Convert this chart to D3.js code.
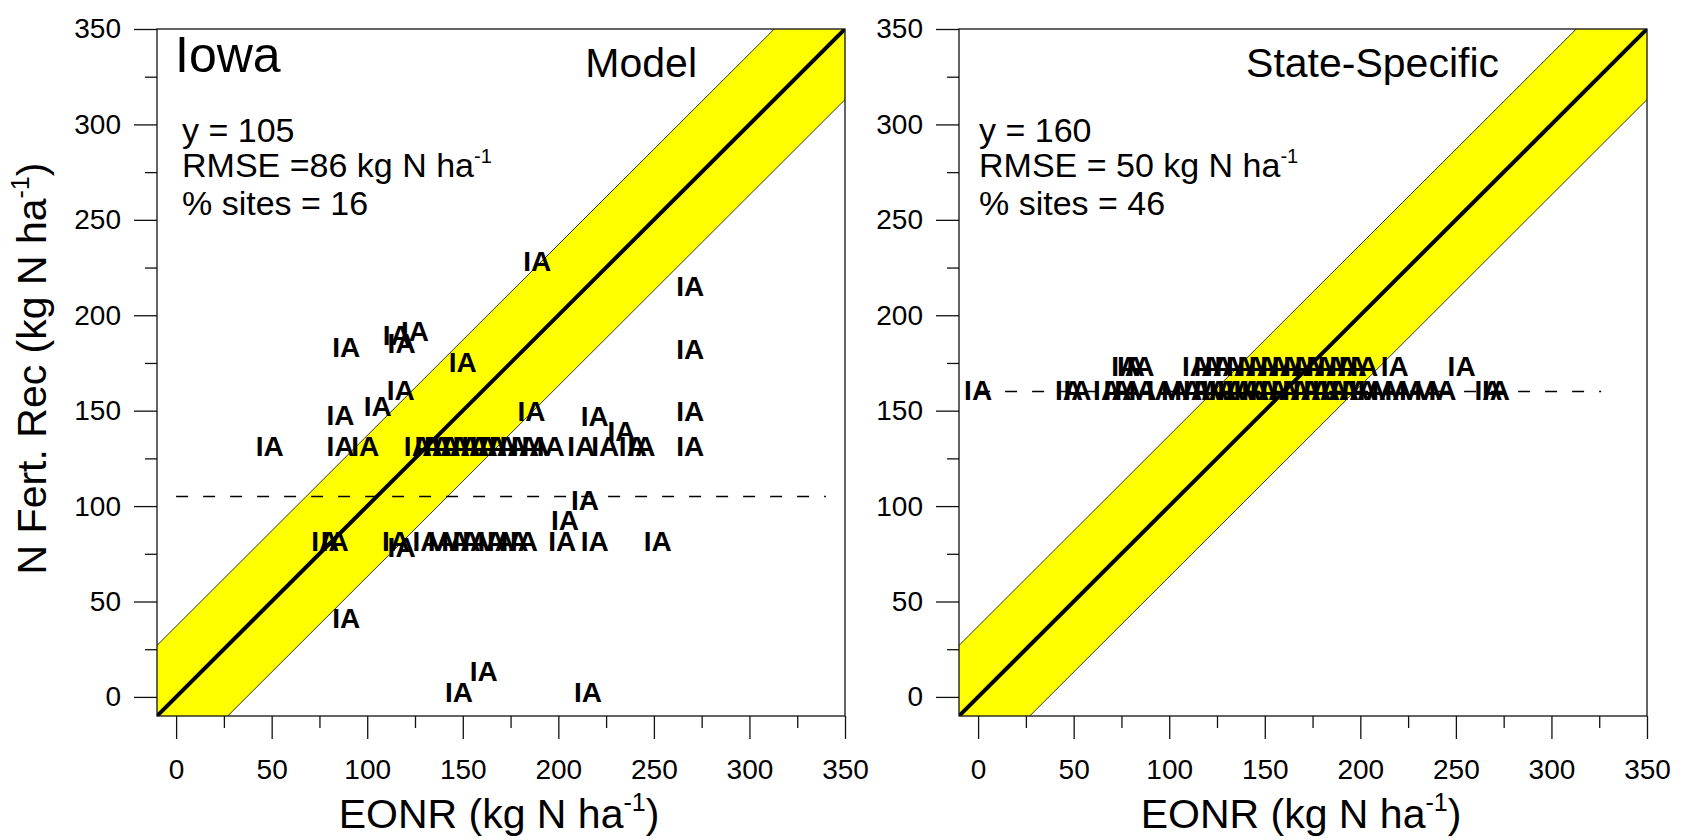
<!DOCTYPE html>
<html lang="en">
<head>
<meta charset="UTF-8">
<title>EONR vs N Fert. Rec - Iowa</title>
<script src="https://d3js.org/d3.v7.min.js"></script>
<style>
    body, html { margin: 0; padding: 0; background: #fff; }
    svg { display: block; font-family: "Liberation Sans", Arial, sans-serif; }
    .tick text { font-family: "Liberation Sans", Arial, sans-serif; }
</style>
</head>
<body>
<div id="chart"></div>
<script>
// axis setup (kg N ha-1)
const axisMin = -10, axisMax = 350
const majorTicks = [0, 50, 100, 150, 200, 250, 300, 350]
const minorTicks = [25, 75, 125, 175, 225, 275, 325]
const bandHalfWidth = 37

// Model panel: EONR (x) and model N recommendation (y)
const modelEonr = [189, 269, 269, 269, 269, 89, 115.5, 118, 125, 150, 117.5, 105.5, 86, 186, 219, 233, 214, 203.5, 89, 161, 148, 215.5,
    49, 86, 99, 126.5, 132, 137, 141.5, 146.5, 152, 156.5, 161, 166, 171, 176.5, 182.5, 188, 196, 212, 224.5, 239, 243.5,
    78, 83, 115, 118, 131, 139, 146, 152, 157, 165, 170, 177, 182, 202, 219, 252]
const modelRec = [227, 214, 181, 148, 130, 182, 188, 184, 190, 174, 159.5, 151, 146, 148.5, 145.5, 138, 101.5, 91, 40, 12, 1, 1,
    130, 130, 130, 130, 130, 130, 130, 130, 130, 130, 130, 130, 130, 130, 130, 130, 130, 130, 130, 130, 130,
    80, 80, 80, 77, 80, 80, 80, 80, 80, 80, 80, 80, 80, 80, 80, 80]

// State-specific panel
const stateEonr = [0, 47.5, 52, 67.5, 73, 78.5, 86, 95.5, 103, 110, 114.5, 120, 124, 128, 132.5, 137, 141, 145, 149.5, 155, 160.5, 166.5, 172, 177.5, 182, 186.5, 192, 197.5, 201.5, 206, 213, 220, 227.5, 235.5, 243, 267, 271,
    77, 80, 85, 114, 120, 126, 131, 137, 143, 149, 155, 161, 167, 173, 179, 185, 191, 196, 202, 218, 253]
const stateRec = [159, 159, 159, 159, 159, 159, 159, 159, 159, 159, 159, 159, 159, 159, 159, 159, 159, 159, 159, 159, 159, 159, 159, 159, 159, 159, 159, 159, 159, 159, 159, 159, 159, 159, 159, 159, 159,
    172, 172, 172, 172, 172, 172, 172, 172, 172, 172, 172, 172, 172, 172, 172, 172, 172, 172, 172, 172, 172]

const modelMean = { y: 105, from: 0, to: 340 }
const stateMean = { y: 160, from: 0, to: 326 }

const modelStats = ["y = 105", "RMSE =86 kg N ha", "% sites = 16"]
const stateStats = ["y = 160", "RMSE = 50 kg N ha", "% sites = 46"]

const width = 1694, height = 840
const plotW = 688, plotH = 687, plotTop = 29

const svg = d3.select("#chart").append("svg")
    .attr("width", width)
    .attr("height", height)

const panels = [
    { id: "model", left: 157, eonr: modelEonr, rec: modelRec, mean: modelMean, stats: modelStats, statsX: 25,
      title: "Model", state: "Iowa", yTitle: true },
    { id: "state", left: 959, eonr: stateEonr, rec: stateRec, mean: stateMean, stats: stateStats, statsX: 20,
      title: "State-Specific", state: null, yTitle: false }
]

panels.forEach(p => drawPanel(p))

function drawPanel(p) {
    const x = d3.scaleLinear().domain([axisMin, axisMax]).range([0, plotW])
    const y = d3.scaleLinear().domain([axisMin, axisMax]).range([plotH, 0])

    const g = svg.append("g").attr("transform", `translate(${p.left},${plotTop})`)

    g.append("clipPath").attr("id", "clip-" + p.id)
        .append("rect").attr("width", plotW).attr("height", plotH)

    const inner = g.append("g").attr("clip-path", `url(#clip-${p.id})`)

    // +/- band around 1:1 line
    const lo = axisMin - 100, hi = axisMax + 100
    const band = [[lo, lo + bandHalfWidth], [hi, hi + bandHalfWidth], [hi, hi - bandHalfWidth], [lo, lo - bandHalfWidth]]
    inner.append("path")
        .attr("d", "M" + band.map(d => [x(d[0]), y(d[1])].join(",")).join("L") + "Z")
        .attr("fill", "#ffff00")
        .attr("stroke", "#000")
        .attr("stroke-width", 0.8)

    inner.append("line")
        .attr("x1", x(axisMin)).attr("y1", y(axisMin))
        .attr("x2", x(axisMax)).attr("y2", y(axisMax))
        .attr("stroke", "#000")
        .attr("stroke-width", 4)

    // mean recommendation
    g.append("line")
        .attr("x1", x(p.mean.from)).attr("x2", x(p.mean.to))
        .attr("y1", y(p.mean.y)).attr("y2", y(p.mean.y))
        .attr("stroke", "#000")
        .attr("stroke-width", 1.5)
        .attr("stroke-dasharray", "12,15")

    // site labels
    g.selectAll(".site")
        .data(p.eonr.map((e, i) => ({ e, r: p.rec[i] })))
        .join("text")
        .attr("class", "site")
        .attr("x", d => x(d.e))
        .attr("y", d => y(d.r) + 7)
        .attr("text-anchor", "middle")
        .attr("font-weight", "bold")
        .attr("font-size", 28)
        .text("IA")

    // frame
    g.append("rect")
        .attr("width", plotW).attr("height", plotH)
        .attr("fill", "none")
        .attr("stroke", "#111")
        .attr("stroke-width", 1.3)

    // axes
    const xAxis = g.append("g").attr("transform", `translate(0,${plotH})`)
        .call(d3.axisBottom(x).tickValues(majorTicks).tickSize(23).tickPadding(20).tickFormat(d3.format("d")))
    const xMinor = g.append("g").attr("transform", `translate(0,${plotH})`)
        .call(d3.axisBottom(x).tickValues(minorTicks).tickSize(12).tickFormat(""))
    const yAxis = g.append("g")
        .call(d3.axisLeft(y).tickValues(majorTicks).tickSize(23).tickPadding(13).tickFormat(d3.format("d")))
    const yMinor = g.append("g")
        .call(d3.axisLeft(y).tickValues(minorTicks).tickSize(12).tickFormat(""))

    ;[xAxis, xMinor, yAxis, yMinor].forEach(a => {
        a.select(".domain").remove()
        a.selectAll(".tick line").attr("stroke", "#111").attr("stroke-width", 1.3)
        a.selectAll(".tick text").attr("font-size", 28).attr("fill", "#000")
    })

    // stats text
    const stats = g.append("text")
        .attr("x", p.statsX)
        .attr("font-size", 34)
    p.stats.forEach((s, i) => {
        const base = [113, 148, 186][i]
        stats.append("tspan").attr("x", p.statsX).attr("y", base).text(s)
        if (s.endsWith("ha")) {
            stats.append("tspan").attr("font-size", 20).attr("dy", -14).text("-1")
        }
    })

    g.append("text")
        .attr("x", 540).attr("y", 48)
        .attr("text-anchor", "end")
        .attr("font-size", 41)
        .text(p.title)

    if (p.state) {
        g.append("text")
            .attr("x", 18).attr("y", 43)
            .attr("font-size", 50)
            .text(p.state)
    }

    // x title
    const xt = g.append("text")
        .attr("x", plotW / 2 - 2).attr("y", 799)
        .attr("text-anchor", "middle")
        .attr("font-size", 41)
    xt.append("tspan").text("EONR (kg N ha")
    xt.append("tspan").attr("font-size", 25).attr("dy", -17).text("-1")
    xt.append("tspan").attr("dy", 17).text(")")

    if (p.yTitle) {
        const yt = svg.append("text")
            .attr("transform", `translate(46,${plotTop + plotH / 2 - 4}) rotate(-90)`)
            .attr("text-anchor", "middle")
            .attr("font-size", 41)
        yt.append("tspan").text("N Fert. Rec (kg N ha")
        yt.append("tspan").attr("font-size", 25).attr("dy", -17).text("-1")
        yt.append("tspan").attr("dy", 17).text(")")
    }
}
</script>
</body>
</html>
